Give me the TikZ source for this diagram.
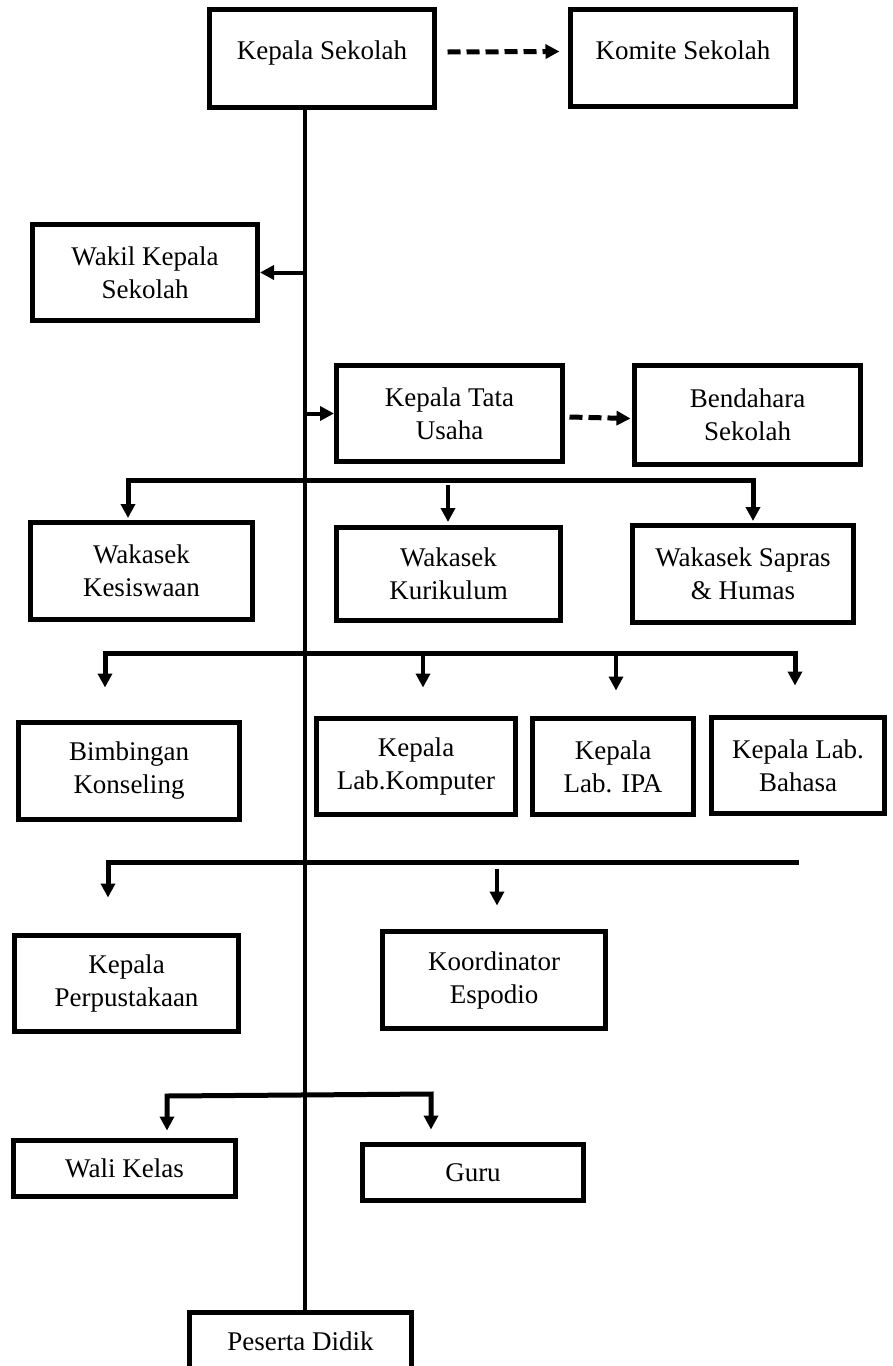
\documentclass[tikz,border=0pt]{standalone}
\usepackage{fontspec}
\setmainfont{Liberation Serif}
\usetikzlibrary{arrows.meta}
\begin{document}
\begin{tikzpicture}[x=1pt,y=1pt,
  box/.style={draw, line width=5pt, rectangle, align=center, inner sep=0pt,
    font=\fontsize{27}{33}\selectfont},
  tip/.tip={Triangle[length=14pt,width=14pt]},
  arr/.style={line width=4pt, -{tip}},
  bar/.style={line width=5pt},
  darr/.style={line width=5pt, dash pattern=on 13pt off 6pt, -{tip}},
  spine/.style={line width=4.5pt}]
\useasboundingbox (0,0) rectangle (892,-1366);
\fill[white] (0,0) rectangle (892,-1366);
% boxes
\node[box, minimum width=225pt, minimum height=98pt] (ks) at (322,-58.5) {\raisebox{16pt}{Kepala Sekolah}};
\node[box, minimum width=225pt, minimum height=97pt] (kom) at (683,-58) {\raisebox{16pt}{Komite Sekolah}};
\node[box, minimum width=225pt, minimum height=96pt] (wak) at (145,-272.5) {Wakil Kepala\\Sekolah};
\node[box, minimum width=226pt, minimum height=96pt] (ktu) at (449.5,-413.5) {Kepala Tata\\Usaha};
\node[box, minimum width=226pt, minimum height=99pt] (bend) at (747.5,-415) {Bendahara\\Sekolah};
\node[box, minimum width=222pt, minimum height=97pt] (kes) at (141.5,-571) {Wakasek\\Kesiswaan};
\node[box, minimum width=224pt, minimum height=93pt] (kur) at (448.5,-574) {Wakasek\\Kurikulum};
\node[box, minimum width=221pt, minimum height=97pt] (sap) at (743,-574) {Wakasek Sapras\\\& Humas};
\node[box, minimum width=221pt, minimum height=97pt] (bim) at (129,-771) {Bimbingan\\Konseling};
\node[box, minimum width=199pt, minimum height=96pt] (komp) at (416,-766.5) {Kepala\\Lab.Komputer};
\node[box, minimum width=161pt, minimum height=96pt] (ipa) at (613,-766.5) {Kepala\\Lab. IPA};
\node[box, minimum width=173pt, minimum height=96pt] (bah) at (798,-765.5) {Kepala Lab.\\Bahasa};
\node[box, minimum width=224pt, minimum height=96pt] (perp) at (126.5,-983.5) {Kepala\\Perpustakaan};
\node[box, minimum width=223pt, minimum height=97pt] (esp) at (494,-980) {Koordinator\\Espodio};
\node[box, minimum width=222pt, minimum height=56pt] (wali) at (124.5,-1168.5) {Wali Kelas};
\node[box, minimum width=221pt, minimum height=56pt] (guru) at (473,-1172.5) {Guru};
\node[box, minimum width=222pt, minimum height=57pt] (ps) at (300.5,-1341) {Peserta Didik};
% coordinates
\coordinate (sp) at (305,0);
\coordinate (b1L) at (128,-480);
\coordinate (b1R) at (753,-480);
\coordinate (m1) at (448,-485);
\coordinate (b2L) at (105,-653);
\coordinate (b2R) at (795,-653);
\coordinate (m2) at (423,-655);
\coordinate (m3) at (616,-655);
\coordinate (b3L) at (108,-862);
\coordinate (b3R) at (799,-862);
\coordinate (m4) at (497,-869);
\coordinate (b4L) at (167,-1096);
\coordinate (b4R) at (431,-1094);
% spine
\draw[spine] (ks.south -| sp) -- (ps.north -| sp);
% top connectors
\draw[darr] ([xshift=10.5pt,yshift=6.5pt]ks.east) -- ([xshift=-8.5pt,yshift=6.5pt]kom.west);
\draw[arr] (sp |- wak.east) -- (wak.east);
\draw[arr] (sp |- ktu.west) -- (ktu.west);
\draw[darr] ([xshift=4.5pt,yshift=-3.5pt]ktu.east) -- ([xshift=-1.5pt,yshift=-3.5pt]bend.west);
% branch 1
\draw[bar, {tip}-{tip}, shorten <=2pt, shorten >=2pt] (kes.north -| b1L) -- (b1L) -- (b1R) -- (sap.north -| b1R);
\draw[arr, shorten >=3pt] (m1) -- (m1 |- kur.north);
% branch 2
\draw[bar, {tip}-{tip}, shorten <=32.5pt, shorten >=29.5pt] (bim.north -| b2L) -- (b2L) -- (b2R) -- (bah.north -| b2R);
\draw[arr, shorten >=28.5pt] (m2) -- (m2 |- komp.north);
\draw[arr, shorten >=25.5pt] (m3) -- (m3 |- ipa.north);
% branch 3
\draw[bar, {tip}-, shorten <=35.5pt] (perp.north -| b3L) -- (b3L) -- (b3R);
\draw[arr, shorten >=23.5pt] (m4) -- (m4 |- esp.north);
% branch 4
\draw[bar, {tip}-{tip}, shorten <=7.5pt, shorten >=12.5pt] (wali.north -| b4L) -- (b4L) -- (b4R) -- (guru.north -| b4R);
\end{tikzpicture}
\end{document}
